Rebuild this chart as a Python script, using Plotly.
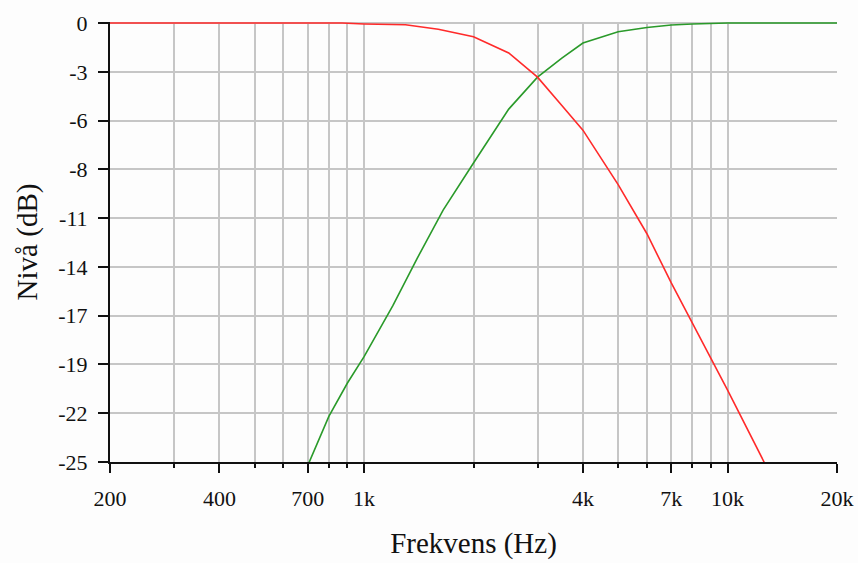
import numpy as np
import plotly.graph_objects as go

# Low-pass branch (red)
lp_freq = [200, 800, 870, 1000, 1300, 1600, 2000, 2500, 3000, 3500, 4000,
           5000, 6000, 7000, 8000, 9000, 10000, 12600, 16000]
lp_db = [0, 0, 0, -0.05, -0.1, -0.35, -0.78, -1.7, -3.08, -4.7, -6.1,
         -9.2, -12.0, -14.8, -17.1, -19.1, -20.9, -25.0, -29.1]

# High-pass branch (green)
hp_freq = [500, 700, 800, 900, 1000, 1200, 1400, 1650, 2000, 2400, 2500,
           3000, 3500, 4000, 5000, 6000, 7000, 8000, 9000, 10000, 20000]
hp_db = [-31.0, -25.2, -22.4, -20.5, -19.0, -16.1, -13.4, -10.65, -7.97, -5.5, -4.9,
         -3.08, -2.0, -1.14, -0.5, -0.25, -0.11, -0.05, -0.02, 0, 0]

# Axis ticks
x_major = [200, 400, 700, 1000, 4000, 7000, 10000, 20000]
x_major_text = ["200", "400", "700", "1k", "4k", "7k", "10k", "20k"]
x_minor = [300, 500, 600, 800, 900, 2000, 3000, 5000, 6000, 8000, 9000]
y_ticks = list(np.linspace(-25, 0, 10))
y_text = ["-25", "-22", "-19", "-17", "-14", "-11", "-8", "-6", "-3", "0"]

font_family = "Liberation Serif, Times New Roman, serif"
grid_col = "#c6c6c6"
ink = "#111111"

fig = go.Figure()
fig.add_trace(go.Scatter(x=hp_freq, y=hp_db, mode="lines",
                         line=dict(color="#2a9a2a", width=1.6), showlegend=False))
fig.add_trace(go.Scatter(x=lp_freq, y=lp_db, mode="lines",
                         line=dict(color="#ff2a2a", width=1.6), showlegend=False))

fig.update_layout(
    width=858, height=563,
    margin=dict(l=110, r=21, t=22, b=101),
    paper_bgcolor="#fdfdfd", plot_bgcolor="#fdfdfd",
    font=dict(family=font_family, color=ink),
    xaxis=dict(
        type="log", range=[np.log10(200), np.log10(20000)],
        tickmode="array", tickvals=x_major, ticktext=x_major_text,
        ticks="outside", ticklen=9, tickwidth=2, tickcolor=ink,
        showline=True, linecolor=ink, linewidth=2,
        showgrid=True, gridcolor=grid_col, gridwidth=1.6,
        tickfont=dict(size=22), ticklabelstandoff=7,
        minor=dict(tickmode="array", tickvals=x_minor, ticks="outside", ticklen=4,
                   tickwidth=2, tickcolor=ink,
                   showgrid=True, gridcolor=grid_col, gridwidth=1.6),
        title=dict(text="Frekvens (Hz)", font=dict(size=29), standoff=22),
        zeroline=False, automargin=False,
    ),
    yaxis=dict(
        range=[-25, 0.06],
        tickmode="array", tickvals=y_ticks, ticktext=y_text,
        ticks="outside", ticklen=10, tickwidth=2, tickcolor=ink,
        showline=True, linecolor=ink, linewidth=2,
        showgrid=True, gridcolor=grid_col, gridwidth=1.6,
        tickfont=dict(size=22), ticklabelstandoff=6,
        title=dict(text="Nivå (dB)", font=dict(size=29), standoff=12),
        zeroline=False, automargin=False,
    ),
)

fig.write_html("out.html")
